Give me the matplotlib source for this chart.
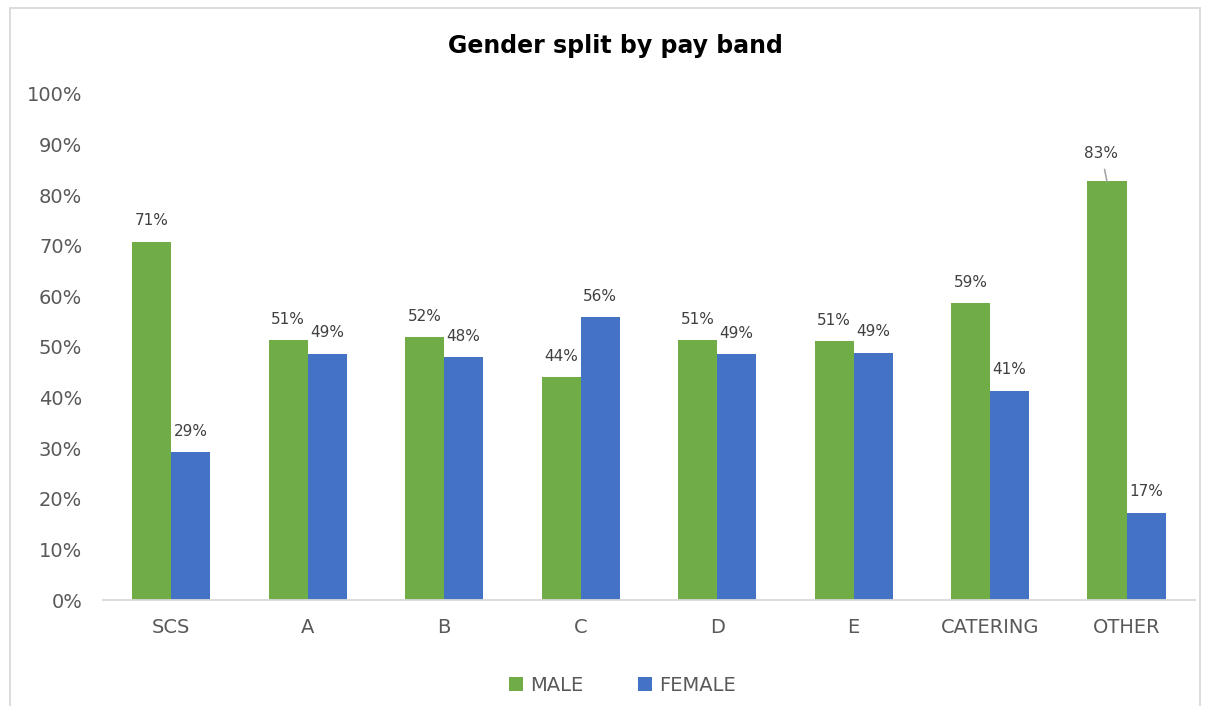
import matplotlib.pyplot as plt
import numpy as np
from matplotlib.patches import Rectangle

categories = ['SCS', 'A', 'B', 'C', 'D', 'E', 'CATERING', 'OTHER']
male = [70.8, 51.3, 52.0, 44.1, 51.4, 51.1, 58.6, 82.7]
female = [29.2, 48.7, 48.0, 55.9, 48.6, 48.9, 41.4, 17.3]
male_labels = ['71%', '51%', '52%', '44%', '51%', '51%', '59%', '83%']
female_labels = ['29%', '49%', '48%', '56%', '49%', '49%', '41%', '17%']

green = '#70AD47'
blue = '#4472C4'
grey = '#595959'

plt.rcParams['font.family'] = ['DejaVu Sans']

fig = plt.figure(figsize=(12.09, 7.06), dpi=100)
ax = fig.add_axes([0.0852, 0.150, 0.903, 0.717])

x = np.arange(len(categories))
w = 0.286
b1 = ax.bar(x - w / 2, male, w, color=green, label='MALE')
b2 = ax.bar(x + w / 2, female, w, color=blue, label='FEMALE')

for i, (bar, lab) in enumerate(zip(b1, male_labels)):
    if i == len(categories) - 1:
        # this one sits higher with a leader line, as in the original
        ax.annotate(lab, (bar.get_x() + bar.get_width() / 2, bar.get_height()),
                    xytext=(-4, 20), textcoords='offset points', ha='center', va='center',
                    fontsize=11, color='#404040',
                    arrowprops=dict(arrowstyle='-', color='#A6A6A6', lw=1.2, shrinkA=4, shrinkB=0))
    else:
        ax.annotate(lab, (bar.get_x() + bar.get_width() / 2, bar.get_height()),
                    xytext=(0, 15), textcoords='offset points', ha='center', va='center',
                    fontsize=11, color='#404040')
for bar, lab in zip(b2, female_labels):
    ax.annotate(lab, (bar.get_x() + bar.get_width() / 2, bar.get_height()),
                xytext=(0, 15), textcoords='offset points', ha='center', va='center',
                fontsize=11, color='#404040')

ax.set_xlim(-0.5, len(categories) - 0.5)
ax.set_ylim(0, 100)
ax.set_yticks(np.arange(0, 101, 10))
ax.set_yticklabels([f'{v}%' for v in range(0, 101, 10)])
ax.set_xticks(x)
ax.set_xticklabels(categories)
ax.tick_params(axis='both', length=0, labelsize=14, labelcolor=grey)
ax.tick_params(axis='y', pad=15)
ax.tick_params(axis='x', pad=13)
for s in ['top', 'right', 'left']:
    ax.spines[s].set_visible(False)
ax.spines['bottom'].set_color('#D9D9D9')
ax.spines['bottom'].set_linewidth(1.3)

fig.text(0.509, 0.935, 'Gender split by pay band', ha='center', va='center',
         fontsize=17, fontweight='bold', color='black')

fig.legend(loc='center', bbox_to_anchor=(0.515, 0.029), ncol=2, frameon=False,
           fontsize=14, labelcolor=grey, handlelength=0.7, handleheight=0.7,
           columnspacing=2.8, handletextpad=0.4)

fig.patches.append(Rectangle((10 / 1209, -0.01), 1190 / 1209, 1 - 8 / 706 + 0.01,
                             transform=fig.transFigure, fill=False,
                             edgecolor='#D9D9D9', lw=1.3))

fig.savefig('out.png', dpi=100)
